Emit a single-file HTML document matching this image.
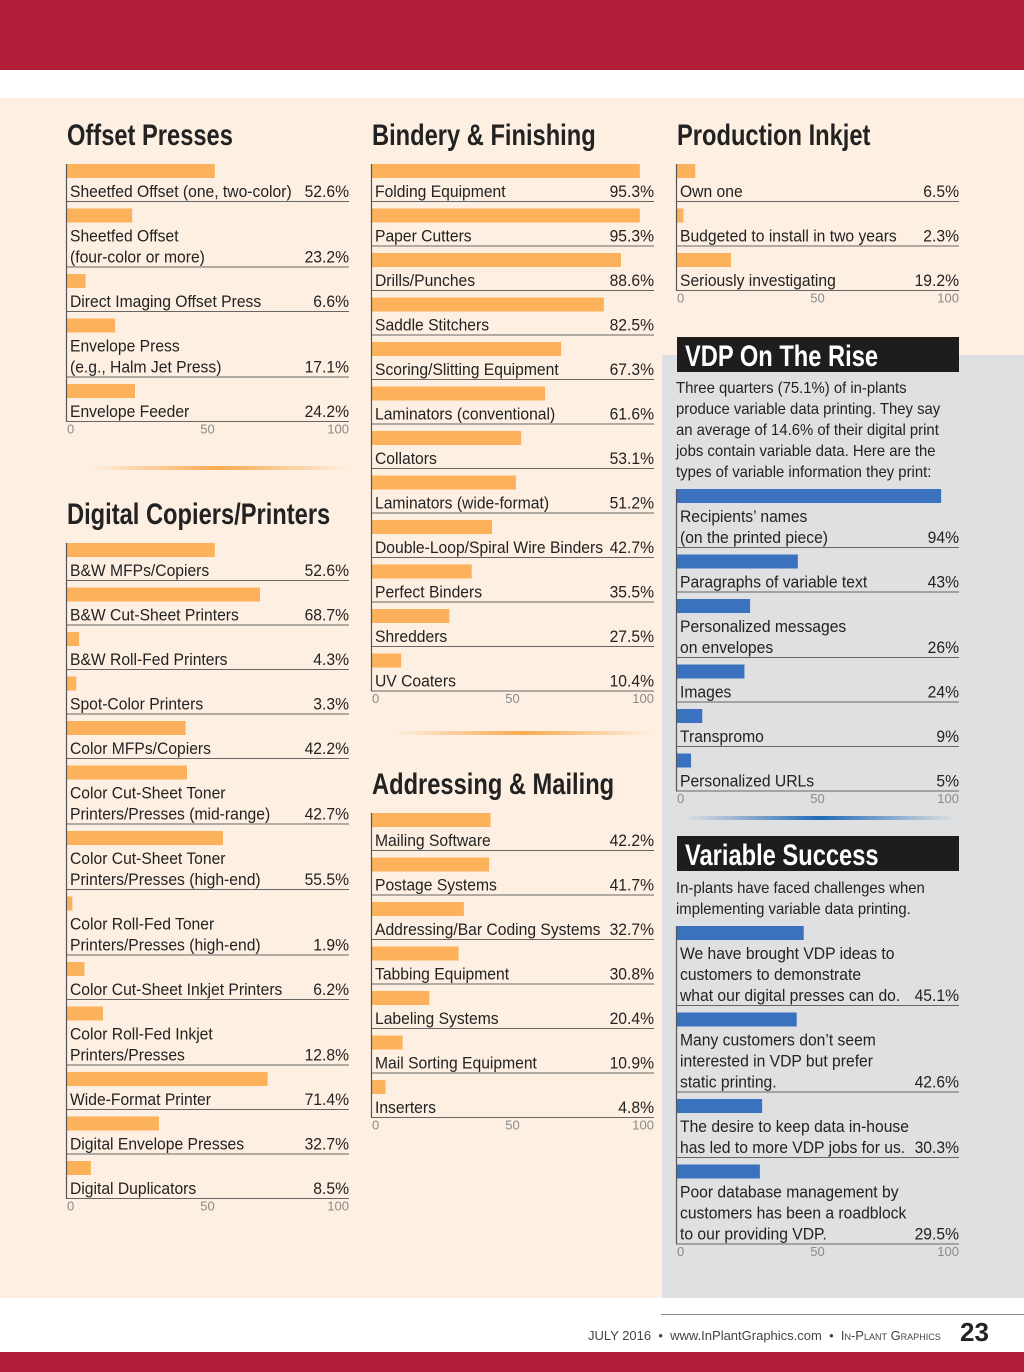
<!DOCTYPE html>
<html><head><meta charset="utf-8"><style>
html,body{margin:0;padding:0;background:#fff}
svg{display:block}
text{font-family:"Liberation Sans Narrow","Liberation Sans",sans-serif}
</style></head><body>
<svg id="pg" width="1024" height="1372" viewBox="0 0 1024 1372" xmlns="http://www.w3.org/2000/svg">
<defs>
<linearGradient id="og" x1="0" x2="1"><stop offset="0" stop-color="#f6a340" stop-opacity="0"/><stop offset="0.5" stop-color="#f6a340" stop-opacity="0.9"/><stop offset="1" stop-color="#f6a340" stop-opacity="0"/></linearGradient>
<linearGradient id="bg" x1="0" x2="1"><stop offset="0" stop-color="#2f6fb5" stop-opacity="0"/><stop offset="0.5" stop-color="#1f6ab8" stop-opacity="1"/><stop offset="1" stop-color="#2f6fb5" stop-opacity="0"/></linearGradient>
</defs>
<rect x="0" y="0" width="1024" height="70" fill="#b01e37"/>
<rect x="0" y="98" width="1024" height="1200" fill="#fdf0e2"/>
<rect x="662" y="355" width="362" height="943" fill="#dfe0e2"/>
<rect x="0" y="1352" width="1024" height="20" fill="#b01e37"/>
<line x1="661" y1="1314.5" x2="1024" y2="1314.5" stroke="#888" stroke-width="1"/>
<text x="588" y="1340" font-size="13" fill="#444" style="font-family:'Liberation Sans',sans-serif">JULY 2016 &#160;• &#160;www.InPlantGraphics.com &#160;• &#160;<tspan style="font-variant:small-caps">In-Plant Graphics</tspan></text>
<text x="960" y="1341" font-size="26" font-weight="bold" fill="#222" style="font-family:'Liberation Sans',sans-serif">23</text>

<text transform="translate(67 145) scale(0.79 1)" font-size="30" font-weight="bold" fill="#222">Offset Presses</text>
<text transform="translate(67 524) scale(0.79 1)" font-size="30" font-weight="bold" fill="#222">Digital Copiers/Printers</text>
<text transform="translate(372 145) scale(0.79 1)" font-size="30" font-weight="bold" fill="#222">Bindery &amp; Finishing</text>
<text transform="translate(372 794) scale(0.79 1)" font-size="30" font-weight="bold" fill="#222">Addressing &amp; Mailing</text>
<text transform="translate(677 145) scale(0.79 1)" font-size="30" font-weight="bold" fill="#222">Production Inkjet</text>

<rect x="88" y="466" width="262" height="4" fill="url(#og)"/>
<rect x="392" y="731" width="262" height="4" fill="url(#og)"/>
<rect x="684" y="816" width="272" height="4" fill="url(#bg)"/>

<rect x="677" y="337" width="282" height="35" fill="#1e1c1d"/>
<text transform="translate(685 366) scale(0.79 1)" font-size="30" font-weight="bold" fill="#fff">VDP On The Rise</text>
<g transform="translate(676 0) scale(0.93 1)">
<text font-size="16" fill="#222">
<tspan x="0" y="393">Three quarters (75.1%) of in-plants</tspan>
<tspan x="0" y="414">produce variable data printing. They say</tspan>
<tspan x="0" y="435">an average of 14.6% of their digital print</tspan>
<tspan x="0" y="456">jobs contain variable data. Here are the</tspan>
<tspan x="0" y="477">types of variable information they print:</tspan>
</text>
</g>
<rect x="677" y="836" width="282" height="35" fill="#1e1c1d"/>
<text transform="translate(685 865) scale(0.79 1)" font-size="30" font-weight="bold" fill="#fff">Variable Success</text>
<g transform="translate(676 0) scale(0.93 1)">
<text font-size="16" fill="#222">
<tspan x="0" y="893">In-plants have faced challenges when</tspan>
<tspan x="0" y="914">implementing variable data printing.</tspan>
</text>
</g>
<g id="charts"></g>
</svg>
<script>
const offsetLabels=["Sheetfed Offset (one, two-color)","Sheetfed Offset|(four-color or more)","Direct Imaging Offset Press","Envelope Press|(e.g., Halm Jet Press)","Envelope Feeder"];
const offsetValues=[52.6,23.2,6.6,17.1,24.2];
const digitalLabels=["B&W MFPs/Copiers","B&W Cut-Sheet Printers","B&W Roll-Fed Printers","Spot-Color Printers","Color MFPs/Copiers","Color Cut-Sheet Toner|Printers/Presses (mid-range)","Color Cut-Sheet Toner|Printers/Presses (high-end)","Color Roll-Fed Toner|Printers/Presses (high-end)","Color Cut-Sheet Inkjet Printers","Color Roll-Fed Inkjet|Printers/Presses","Wide-Format Printer","Digital Envelope Presses","Digital Duplicators"];
const digitalValues=[52.6,68.7,4.3,3.3,42.2,42.7,55.5,1.9,6.2,12.8,71.4,32.7,8.5];
const binderyLabels=["Folding Equipment","Paper Cutters","Drills/Punches","Saddle Stitchers","Scoring/Slitting Equipment","Laminators (conventional)","Collators","Laminators (wide-format)","Double-Loop/Spiral Wire Binders","Perfect Binders","Shredders","UV Coaters"];
const binderyValues=[95.3,95.3,88.6,82.5,67.3,61.6,53.1,51.2,42.7,35.5,27.5,10.4];
const mailingLabels=["Mailing Software","Postage Systems","Addressing/Bar Coding Systems","Tabbing Equipment","Labeling Systems","Mail Sorting Equipment","Inserters"];
const mailingValues=[42.2,41.7,32.7,30.8,20.4,10.9,4.8];
const inkjetLabels=["Own one","Budgeted to install in two years","Seriously investigating"];
const inkjetValues=[6.5,2.3,19.2];
const vdpLabels=["Recipients’ names|(on the printed piece)","Paragraphs of variable text","Personalized messages|on envelopes","Images","Transpromo","Personalized URLs"];
const vdpValues=[94,43,26,24,9,5];
const vdpValueText=["94%","43%","26%","24%","9%","5%"];
const successLabels=["We have brought VDP ideas to|customers to demonstrate|what our digital presses can do.","Many customers don’t seem|interested in VDP but prefer|static printing.","The desire to keep data in-house|has led to more VDP jobs for us.","Poor database management by|customers has been a roadblock|to our providing VDP."];
const successValues=[45.1,42.6,30.3,29.5];
const axisTicks=[0,50,100];

const NS="http://www.w3.org/2000/svg";
const root=document.getElementById('charts');
const SX=0.95;
function mk(tag,attrs,parent){const e=document.createElementNS(NS,tag);for(const k in attrs)e.setAttribute(k,attrs[k]);parent.appendChild(e);return e;}
function drawChart(name,x0,top,labels,values,color,texts){
  const W=281;
  const xs=v=>x0+1+v/100*W;
  const g=mk('g',{},root);
  
  
  let y=top;
  labels.forEach((lab,i)=>{
    const lines=lab.split('|');
    const bar=mk('rect',{x:x0+1,y:y,width:xs(values[i])-xs(0),height:14,fill:color},g);
    
    
    lines.forEach((ln,j)=>{
      const t=mk('text',{transform:'translate('+(x0+4)+' '+(y+33+21*j)+') scale('+SX+' 1)','font-size':16.5,fill:'#222'},g);
      t.textContent=ln;
      
      
    });
    const ul=y+37+21*(lines.length-1);
    const vt=mk('text',{transform:'translate('+(x0+283)+' '+(ul-4)+') scale('+SX+' 1)','font-size':16.5,fill:'#222','text-anchor':'end'},g);
    vt.textContent=texts?texts[i]:values[i].toFixed(1)+'%';
    
    
    const l=mk('line',{x1:x0,y1:ul+0.5,x2:x0+283,y2:ul+0.5,stroke:'#666','stroke-width':1},g);
    
    
    y=ul+7.5;
  });
  const end=y-7;
  const ax=mk('line',{x1:x0+0.5,y1:top,x2:x0+0.5,y2:end,stroke:'#555','stroke-width':1.2},g);
  
  
  axisTicks.forEach((tv,k)=>{
    const anchor=k===0?'start':(k===axisTicks.length-1?'end':'middle');
    const xx=k===0?x0+1:(k===axisTicks.length-1?x0+283:xs(tv));
    const t=mk('text',{x:xx,y:end+12,'font-size':13,fill:'#8a8a8a','text-anchor':anchor,style:"font-family:'Liberation Sans',sans-serif"},g);
    t.textContent=tv;
    
    
  });
}
drawChart('offset',66,164,offsetLabels,offsetValues,'#fbb25a');
drawChart('digital',66,543,digitalLabels,digitalValues,'#fbb25a');
drawChart('bindery',371,164,binderyLabels,binderyValues,'#fbb25a');
drawChart('mailing',371,813,mailingLabels,mailingValues,'#fbb25a');
drawChart('inkjet',676,164,inkjetLabels,inkjetValues,'#fbb25a');
drawChart('vdp',676,489,vdpLabels,vdpValues,'#3a72bf',vdpValueText);
drawChart('success',676,926,successLabels,successValues,'#3a72bf');
</script>
</body></html>
